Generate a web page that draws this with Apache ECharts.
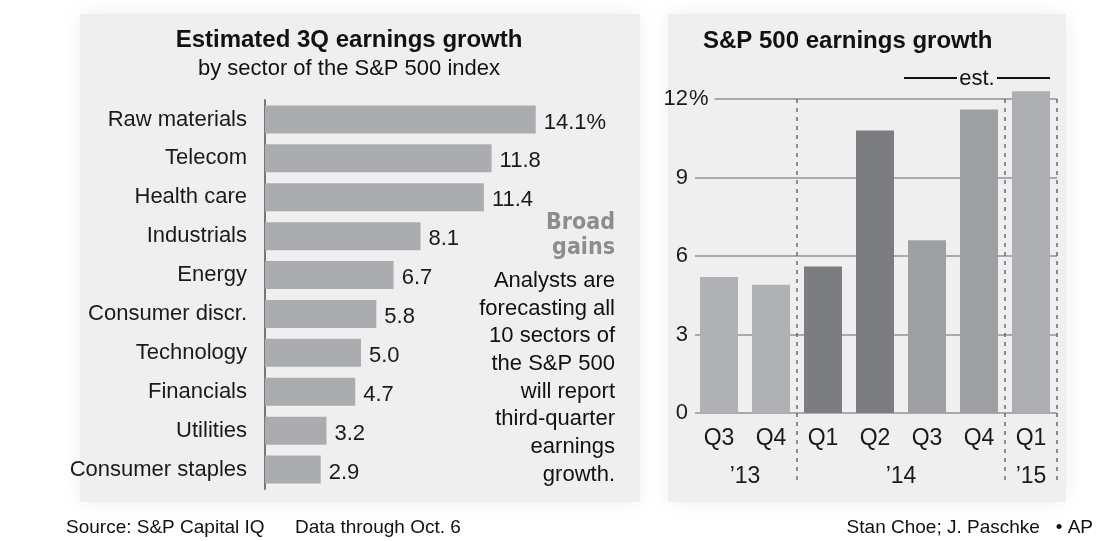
<!DOCTYPE html>
<html>
<head>
<meta charset="utf-8">
<script src="https://cdn.jsdelivr.net/npm/echarts@6/dist/echarts.min.js"></script>
<style>
  html, body { margin: 0; padding: 0; background: #fff; }
  #chart { width: 1104px; height: 541px; }
</style>
</head>
<body>
<div id="chart"></div>
<script>
// left chart: estimated 3Q growth by sector
const sectors = ["Raw materials", "Telecom", "Health care", "Industrials", "Energy",
  "Consumer discr.", "Technology", "Financials", "Utilities", "Consumer staples"];
const sectorGrowth = [14.1, 11.8, 11.4, 8.1, 6.7, 5.8, 5.0, 4.7, 3.2, 2.9];

// right chart: S&P 500 earnings growth by quarter
const quarters = ["Q3", "Q4", "Q1", "Q2", "Q3", "Q4", "Q1"];
const quarterGrowth = [5.2, 4.9, 5.6, 10.8, 6.6, 11.6, 12.3];
const years = ["\u201913", "\u201914", "\u201915"];
const yearCenters = [0.5, 3.5, 6];
const growthTicks = [0, 3, 6, 9, 12];

const quarterColors = ["#b0b1b4", "#b0b1b4", "#7c7d81", "#7c7d81", "#9e9fa3", "#9e9fa3", "#adaeb1"];
const FONT = "'Liberation Sans', Arial, Helvetica, sans-serif";
const NARROW = "'Liberation Sans Narrow', 'DejaVu Sans Condensed', sans-serif";
const dash = [4, 5];

const myChart = echarts.init(document.getElementById("chart"));

const option = {
  animation: false,
  textStyle: { fontFamily: FONT },
  grid: [
    { left: 265, top: 100, width: 288, height: 389 },
    { left: 693, right: 47, top: 99, bottom: 128 }
  ],
  xAxis: [
    {
      gridIndex: 0, type: "value", min: 0, max: 15,
      show: false
    },
    {
      gridIndex: 1, type: "category", data: quarters, position: "bottom",
      axisLine: { show: false },
      axisTick: {
        show: true, length: 70,
        interval: (i) => i === 2 || i === 6,
        lineStyle: { color: "#6a6b6f", width: 1.5, type: dash }
      },
      splitLine: {
        show: true,
        interval: (i) => i === 2 || i === 6,
        lineStyle: { color: "#6a6b6f", width: 1.5, type: dash }
      },
      axisLabel: { fontSize: 23, color: "#1a1a1a", margin: 14 }
    },
    {
      // year labels under the quarters
      gridIndex: 1, type: "value", min: -0.5, max: 6.5, position: "bottom",
      axisLine: { show: false },
      axisTick: { show: false },
      splitLine: { show: false },
      axisLabel: {
        customValues: yearCenters,
        formatter: (v) => years[yearCenters.indexOf(v)],
        fontSize: 23, color: "#1a1a1a", margin: 52
      }
    }
  ],
  yAxis: [
    {
      gridIndex: 0, type: "category", data: sectors, inverse: true,
      axisLine: { show: true, lineStyle: { color: "#76777b", width: 2 } },
      axisTick: { show: false },
      axisLabel: { fontSize: 22, color: "#1a1a1a", margin: 18 }
    },
    {
      gridIndex: 1, type: "value", min: 0, max: 12, interval: 3, position: "left",
      axisLine: { show: false },
      axisTick: { show: false },
      splitLine: { show: true, lineStyle: { color: "#a9aaad", width: 2 } },
      axisLabel: { fontSize: 22, color: "#1a1a1a", margin: 5 }
    },
    {
      // the % sign after the top tick
      gridIndex: 1, type: "value", min: 0, max: 12, interval: 3, position: "left",
      axisLine: { show: false },
      axisTick: { show: false },
      splitLine: { show: false },
      axisLabel: {
        formatter: (v) => (v === growthTicks[growthTicks.length - 1] ? "%" : ""),
        align: "left", margin: 4, fontSize: 22, color: "#1a1a1a",
        backgroundColor: "#efefef", padding: [2, 6, 2, 0]
      }
    }
  ],
  series: [
    {
      type: "bar", xAxisIndex: 0, yAxisIndex: 0,
      data: sectorGrowth, barWidth: 28,
      itemStyle: { color: "#abacaf" },
      label: {
        show: true, position: "right", distance: 8, offset: [0, 3],
        fontSize: 22, color: "#1a1a1a",
        formatter: (p) => (p.dataIndex === 0 ? p.value.toFixed(1) + "%" : p.value.toFixed(1))
      }
    },
    {
      type: "bar", xAxisIndex: 1, yAxisIndex: 1,
      data: quarterGrowth, barWidth: 38, clip: false,
      itemStyle: { color: (p) => quarterColors[p.dataIndex] }
    }
  ],
  graphic: [
    {
      type: "rect", z: -10, silent: true,
      shape: { x: 80, y: 14, width: 560, height: 488 },
      style: { fill: "#efefef", shadowBlur: 20, shadowColor: "#efefef" }
    },
    {
      type: "rect", z: -10, silent: true,
      shape: { x: 668, y: 14, width: 398, height: 488 },
      style: { fill: "#efefef", shadowBlur: 20, shadowColor: "#efefef" }
    },
    {
      type: "text", x: 349, y: 40,
      style: { text: "Estimated 3Q earnings growth", fontFamily: FONT, fontSize: 24, fontWeight: "bold",
        fill: "#111", align: "center", verticalAlign: "middle" }
    },
    {
      type: "text", x: 349, y: 69,
      style: { text: "by sector of the S&P 500 index", fontFamily: FONT, fontSize: 22,
        fill: "#111", align: "center", verticalAlign: "middle" }
    },
    {
      type: "text", x: 615, y: 211,
      style: { text: "Broad\ngains", fontFamily: NARROW, fontSize: 23, fontWeight: "bold", lineHeight: 25,
        fill: "#8c8d91", align: "right", verticalAlign: "top" }
    },
    {
      type: "text", x: 615, y: 267,
      style: {
        text: "Analysts are\nforecasting all\n10 sectors of\nthe S&P 500\nwill report\nthird-quarter\nearnings\ngrowth.",
        fontFamily: FONT, fontSize: 22, lineHeight: 27.7,
        fill: "#111", align: "right", verticalAlign: "top"
      }
    },
    {
      type: "text", x: 703, y: 41,
      style: { text: "S&P 500 earnings growth", fontFamily: FONT, fontSize: 24, fontWeight: "bold",
        fill: "#111", align: "left", verticalAlign: "middle" }
    },
    {
      type: "text", x: 66, y: 528,
      style: { text: "Source: S&P Capital IQ", fontFamily: FONT, fontSize: 19, fill: "#111", verticalAlign: "middle" }
    },
    {
      type: "text", x: 295, y: 528,
      style: { text: "Data through Oct. 6", fontFamily: FONT, fontSize: 19, fill: "#111", verticalAlign: "middle" }
    },
    {
      type: "text", x: 1093, y: 528,
      style: { text: "Stan Choe; J. Paschke   \u2022 AP", fontFamily: FONT, fontSize: 19, fill: "#111",
        align: "right", verticalAlign: "middle" }
    }
  ]
};

myChart.setOption(option);

// "est." bracket over the last three quarters
const half = 19;
const x0 = myChart.convertToPixel({ xAxisIndex: 1 }, 4) - half - 4;
const x1 = myChart.convertToPixel({ xAxisIndex: 1 }, 6) + half;
const mid = (x0 + x1) / 2;
const yEst = 78;
myChart.setOption({
  graphic: option.graphic.concat([
    { type: "line", shape: { x1: x0, y1: yEst, x2: mid - 20, y2: yEst }, style: { stroke: "#111", lineWidth: 2 } },
    { type: "line", shape: { x1: mid + 20, y1: yEst, x2: x1, y2: yEst }, style: { stroke: "#111", lineWidth: 2 } },
    {
      type: "text", x: mid, y: yEst + 1,
      style: { text: "est.", fontFamily: FONT, fontSize: 22, fill: "#111", align: "center", verticalAlign: "middle" }
    }
  ])
});
</script>
</body>
</html>
